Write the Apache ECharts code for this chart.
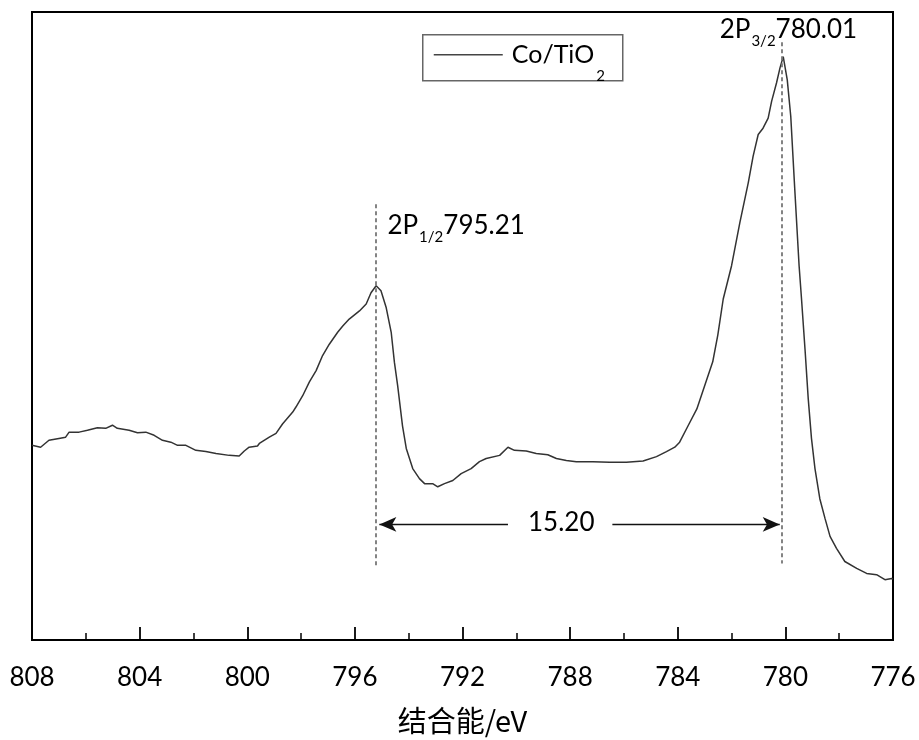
<!DOCTYPE html>
<html>
<head>
<meta charset="utf-8">
<script src="https://cdn.jsdelivr.net/npm/echarts@6/dist/echarts.min.js"></script>
<style>
html,body{margin:0;padding:0;background:#fff;}
#chart{width:919px;height:740px;}
</style>
</head>
<body>
<div id="chart"></div>
<script>
// Binding energy (eV)
var energy = [
  808.00, 807.68, 807.37, 807.00, 806.75, 806.62, 806.25, 805.94, 805.57, 805.26,
  805.01, 804.83, 804.39, 804.08, 803.77, 803.46, 803.15, 802.84, 802.59, 802.28,
  801.91, 801.54, 801.16, 800.67, 800.30, 800.11, 799.93, 799.62, 799.55, 799.18,
  798.93, 798.69, 798.31, 798.19, 797.94, 797.69, 797.44, 797.20, 796.95, 796.64,
  796.45, 796.21, 795.83, 795.58, 795.40, 795.21, 795.03, 794.84, 794.65, 794.53,
  794.41, 794.23, 794.09, 793.85, 793.60, 793.41, 793.11, 792.92, 792.67, 792.36,
  792.05, 791.68, 791.37, 791.12, 790.62, 790.31, 790.07, 789.63, 789.26, 788.83,
  788.51, 788.14, 787.77, 787.15, 786.53, 785.91, 785.29, 784.79, 784.42, 784.11,
  783.93, 783.63, 783.29, 783.00, 782.70, 782.51, 782.31, 782.00, 781.69, 781.38,
  781.20, 781.01, 780.83, 780.64, 780.51, 780.33, 780.20, 780.08, 779.93, 779.80,
  779.65, 779.49, 779.40, 779.27, 779.15, 779.03, 778.90, 778.72, 778.53, 778.34,
  778.10, 777.79, 777.35, 776.98, 776.61, 776.30, 776.05, 776.00
];
// Intensity (arbitrary units)
var intensity = [
  31.0, 30.7, 31.8, 32.1, 32.3, 33.1, 33.1, 33.4, 33.8, 33.7,
  34.2, 33.7, 33.4, 33.0, 33.1, 32.6, 31.8, 31.5, 31.0, 31.0,
  30.2, 30.0, 29.7, 29.4, 29.3, 30.1, 30.7, 30.9, 31.3, 32.3,
  32.9, 34.4, 36.3, 37.1, 38.9, 41.1, 42.9, 45.3, 47.1, 49.0,
  50.0, 51.1, 52.4, 53.5, 55.3, 56.4, 55.6, 53.0, 49.0, 44.2,
  40.5, 34.1, 30.5, 27.3, 25.7, 24.9, 24.9, 24.4, 24.9, 25.4,
  26.5, 27.3, 28.4, 28.9, 29.4, 30.7, 30.2, 30.1, 29.7, 29.5,
  28.9, 28.6, 28.4, 28.4, 28.3, 28.3, 28.5, 29.2, 30.0, 30.7,
  31.5, 34.0, 36.8, 40.5, 44.3, 48.6, 54.3, 59.6, 66.5, 72.8,
  77.0, 80.5, 81.5, 83.1, 85.8, 88.7, 91.1, 92.9, 89.2, 83.4,
  71.7, 59.6, 54.3, 46.3, 38.4, 32.1, 27.3, 22.5, 19.4, 16.5,
  14.6, 12.5, 11.4, 10.6, 10.4, 9.6, 9.8, 9.7
];
var seriesName = 'Co/TiO2';
var xTicks = [808, 804, 800, 796, 792, 788, 784, 780, 776];

// Annotations
var peak1 = {x: 795.21, text: '795.21', sub: '1/2', top: 69.4, bottom: 11.7, labelX: 794.79, labelY: 68.1};
var peak2 = {x: 780.13, text: '780.01', sub: '3/2', top: 95.2, bottom: 12.2, labelX: 782.44, labelY: 99.2};
var split = {text: '15.20', y: 18.4, leftFrom: 790.31, leftTo: 795.09, rightFrom: 786.43, rightTo: 780.21, labelX: 788.33};

var data = energy.map(function (e, i) { return [e, intensity[i]]; });

var chart = echarts.init(document.getElementById('chart'), null, {renderer: 'canvas'});
var baseFont = 'Lato, "Open Sans", "Noto Sans", sans-serif';
var dashStyle = {type: [4, 3], color: '#777', width: 1.8};
var arrowStyle = {type: 'solid', color: '#111', width: 1.3};

chart.setOption({
  backgroundColor: '#fff',
  animation: false,
  grid: {left: 32, right: 26, top: 12, bottom: 97, show: true, borderColor: '#000', borderWidth: 2, backgroundColor: 'transparent'},
  graphic: [{
    type: 'group', left: 422, top: 34, silent: true,
    children: [
      {type: 'rect', shape: {x: 0, y: 0, width: 200, height: 46}, style: {fill: '#fff', stroke: '#666', lineWidth: 1.5}},
      {type: 'line', shape: {x1: 11, y1: 20, x2: 80, y2: 20}, style: {stroke: '#444', lineWidth: 1.5}},
      {type: 'text', x: 89, y: 8, style: {
        text: '{n|Co/TiO}{s|2}', verticalAlign: 'top', align: 'left',
        rich: {
          n: {fontFamily: baseFont, fontSize: 25, fill: '#000', lineHeight: 26, verticalAlign: 'top'},
          s: {fontFamily: baseFont, fontSize: 15, fill: '#000', lineHeight: 16, verticalAlign: 'top', padding: [26, 0, 0, 2]}
        }
      }}
    ]
  }],
  xAxis: {
    type: 'value', inverse: true, min: 776, max: 808, interval: 4,
    axisLine: {show: true, lineStyle: {color: '#000', width: 2}},
    axisTick: {show: true, inside: true, length: 13, lineStyle: {color: '#000', width: 1.8}},
    minorTick: {show: true, splitNumber: 2, length: 7, lineStyle: {color: '#000', width: 1.5}},
    splitLine: {show: false},
    axisLabel: {
      margin: 25, fontFamily: baseFont, fontSize: 26, color: '#000',
      formatter: function (v) { return xTicks.indexOf(v) >= 0 ? String(v) : ''; }
    },
    name: '结合能/eV', nameLocation: 'middle', nameGap: 66,
    nameTextStyle: {fontFamily: '"Noto Sans CJK SC", ' + baseFont, fontSize: 29, color: '#000'}
  },
  yAxis: {
    type: 'value', min: 0, max: 100,
    axisLine: {show: true, lineStyle: {color: '#000', width: 2}},
    axisTick: {show: false}, axisLabel: {show: false}, splitLine: {show: false}
  },
  series: [{
    name: seriesName,
    type: 'line',
    data: data,
    showSymbol: false, symbol: 'none',
    lineStyle: {color: '#333', width: 1.5},
    itemStyle: {color: '#333'},
    z: 3,
    markLine: {
      silent: true, animation: false,
      symbol: ['none', 'none'],
      label: {show: false},
      emphasis: {disabled: true},
      data: [
        [{coord: [peak1.x, peak1.top], lineStyle: dashStyle}, {coord: [peak1.x, peak1.bottom]}],
        [{coord: [peak2.x, peak2.top], lineStyle: dashStyle}, {coord: [peak2.x, peak2.bottom]}],
        [{coord: [split.leftFrom, split.y], lineStyle: arrowStyle, symbol: 'none'},
         {coord: [split.leftTo, split.y], symbol: 'arrow', symbolSize: [11, 17]}],
        [{coord: [split.rightFrom, split.y], lineStyle: arrowStyle, symbol: 'none'},
         {coord: [split.rightTo, split.y], symbol: 'arrow', symbolSize: [11, 17]}]
      ]
    },
    markPoint: {
      silent: true, animation: false,
      symbol: 'circle', symbolSize: 0,
      itemStyle: {color: 'transparent'},
      data: [
        {coord: [peak1.labelX, peak1.labelY], value: peak1.text,
          label: {show: true, position: [0, 0], align: 'left', verticalAlign: 'top',
            formatter: '{a|2P}{b|' + peak1.sub + '}{a|' + peak1.text + '}'}},
        {coord: [peak2.labelX, peak2.labelY], value: peak2.text,
          label: {show: true, position: [0, 0], align: 'left', verticalAlign: 'top',
            formatter: '{a|2P}{b|' + peak2.sub + '}{a|' + peak2.text + '}'}},
        {coord: [split.labelX, split.y], value: split.text,
          label: {show: true, position: [0, 0], align: 'center', verticalAlign: 'middle',
            formatter: '{a|' + split.text + '}'}}
      ],
      label: {
        rich: {
          a: {fontFamily: baseFont, fontSize: 26, color: '#000', lineHeight: 30, verticalAlign: 'top'},
          b: {fontFamily: baseFont, fontSize: 15, color: '#000', lineHeight: 16, verticalAlign: 'top', padding: [17, 0, 0, 1]}
        }
      }
    }
  }]
});
</script>
</body>
</html>
